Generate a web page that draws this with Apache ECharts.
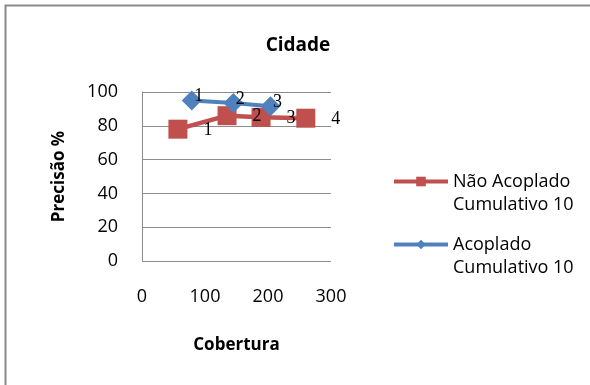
<!DOCTYPE html>
<html>
<head>
<meta charset="utf-8">
<script src="https://cdn.jsdelivr.net/npm/echarts@6/dist/echarts.min.js"></script>
<style>
  html, body { margin: 0; padding: 0; background: #fff; }
  #chart { width: 590px; height: 385px; }
</style>
</head>
<body>
<div id="chart"></div>
<script>
// Precision vs. coverage for the "Cidade" collection
const seriesNames = ['Não Acoplado\nCumulativo 10', 'Acoplado\nCumulativo 10'];

const naoAcopladoCobertura = [57, 135, 189, 260];
const naoAcopladoPrecisao  = [78, 86, 85, 84.5];
const naoAcopladoRotulos   = ['1', '2', '3', '4'];

const acopladoCobertura = [79, 145, 204];
const acopladoPrecisao  = [95, 93.5, 91.5];
const acopladoRotulos   = ['1', '2', '3'];

const xTicks = [0, 100, 200, 300];
const yTicks = [0, 20, 40, 60, 80, 100];

const RED = '#C0504D';
const BLUE = '#4F81BD';
const SANS = '"Open Sans", "Liberation Sans", sans-serif';
const SERIF = '"Liberation Serif", "DejaVu Serif", serif';

function pairs(xs, ys, names) {
  return xs.map((x, i) => ({ value: [x, ys[i]], name: names[i] }));
}

const chart = echarts.init(document.getElementById('chart'), null, { renderer: 'canvas' });

chart.setOption({
  animation: false,
  backgroundColor: '#ffffff',
  graphic: [{
    type: 'rect',
    shape: { x: 5.5, y: 5.5, width: 700, height: 500 },
    style: { fill: 'none', stroke: '#8a8a8a', lineWidth: 2 },
    silent: true,
    z: 100
  }],
  title: {
    text: 'Cidade',
    left: 293,
    textAlign: 'center',
    top: 31,
    textStyle: { fontFamily: SANS, fontWeight: 'bold', fontSize: 19, color: '#000' }
  },
  grid: { left: 142, top: 92, width: 189, height: 169, containLabel: false },
  xAxis: {
    type: 'value',
    min: xTicks[0],
    max: xTicks[xTicks.length - 1],
    interval: xTicks[1] - xTicks[0],
    name: 'Cobertura',
    nameLocation: 'middle',
    nameGap: 76,
    nameTextStyle: { fontFamily: SANS, fontWeight: 'bold', fontSize: 17, color: '#000' },
    axisLine: { show: false },
    axisTick: { show: false },
    splitLine: { show: false },
    axisLabel: { margin: 27, fontFamily: SANS, fontSize: 18, color: '#000' }
  },
  yAxis: {
    type: 'value',
    min: yTicks[0],
    max: yTicks[yTicks.length - 1],
    interval: yTicks[1] - yTicks[0],
    name: 'Precisão %',
    nameLocation: 'middle',
    nameGap: 74,
    nameRotate: 90,
    nameTextStyle: { fontFamily: SANS, fontWeight: 'bold', fontSize: 17, color: '#000' },
    axisLine: { show: true, lineStyle: { color: '#8c8c8c', width: 1 } },
    axisTick: { show: false },
    splitLine: { show: true, lineStyle: { color: '#8c8c8c', width: 1 } },
    axisLabel: { margin: 24, fontFamily: SANS, fontSize: 18, color: '#000' }
  },
  legend: {
    orient: 'vertical',
    left: 387,
    top: 142,
    itemWidth: 54,
    itemHeight: 12,
    itemGap: -6,
    data: seriesNames,
    // a leading empty line keeps the icon level with the first text line
    formatter: name => '\n' + name,
    lineStyle: { width: 4 },
    textStyle: { fontFamily: SANS, fontSize: 18, color: '#000', lineHeight: 23 }
  },
  series: [
    {
      name: seriesNames[0],
      type: 'line',
      data: pairs(naoAcopladoCobertura, naoAcopladoPrecisao, naoAcopladoRotulos),
      symbol: 'rect',
      symbolSize: 19,
      lineStyle: { color: RED, width: 4.5 },
      itemStyle: { color: RED },
      label: {
        show: true,
        position: 'inside',
        offset: [30, 1],
        formatter: p => p.name,
        fontFamily: SERIF,
        fontSize: 18,
        color: '#000'
      }
    },
    {
      name: seriesNames[1],
      type: 'line',
      data: pairs(acopladoCobertura, acopladoPrecisao, acopladoRotulos),
      symbol: 'diamond',
      symbolSize: 20,
      lineStyle: { color: BLUE, width: 4 },
      itemStyle: { color: BLUE },
      label: {
        show: true,
        position: 'inside',
        offset: [7, -4],
        formatter: p => p.name,
        fontFamily: SERIF,
        fontSize: 18,
        color: '#000'
      }
    }
  ]
});
</script>
</body>
</html>
